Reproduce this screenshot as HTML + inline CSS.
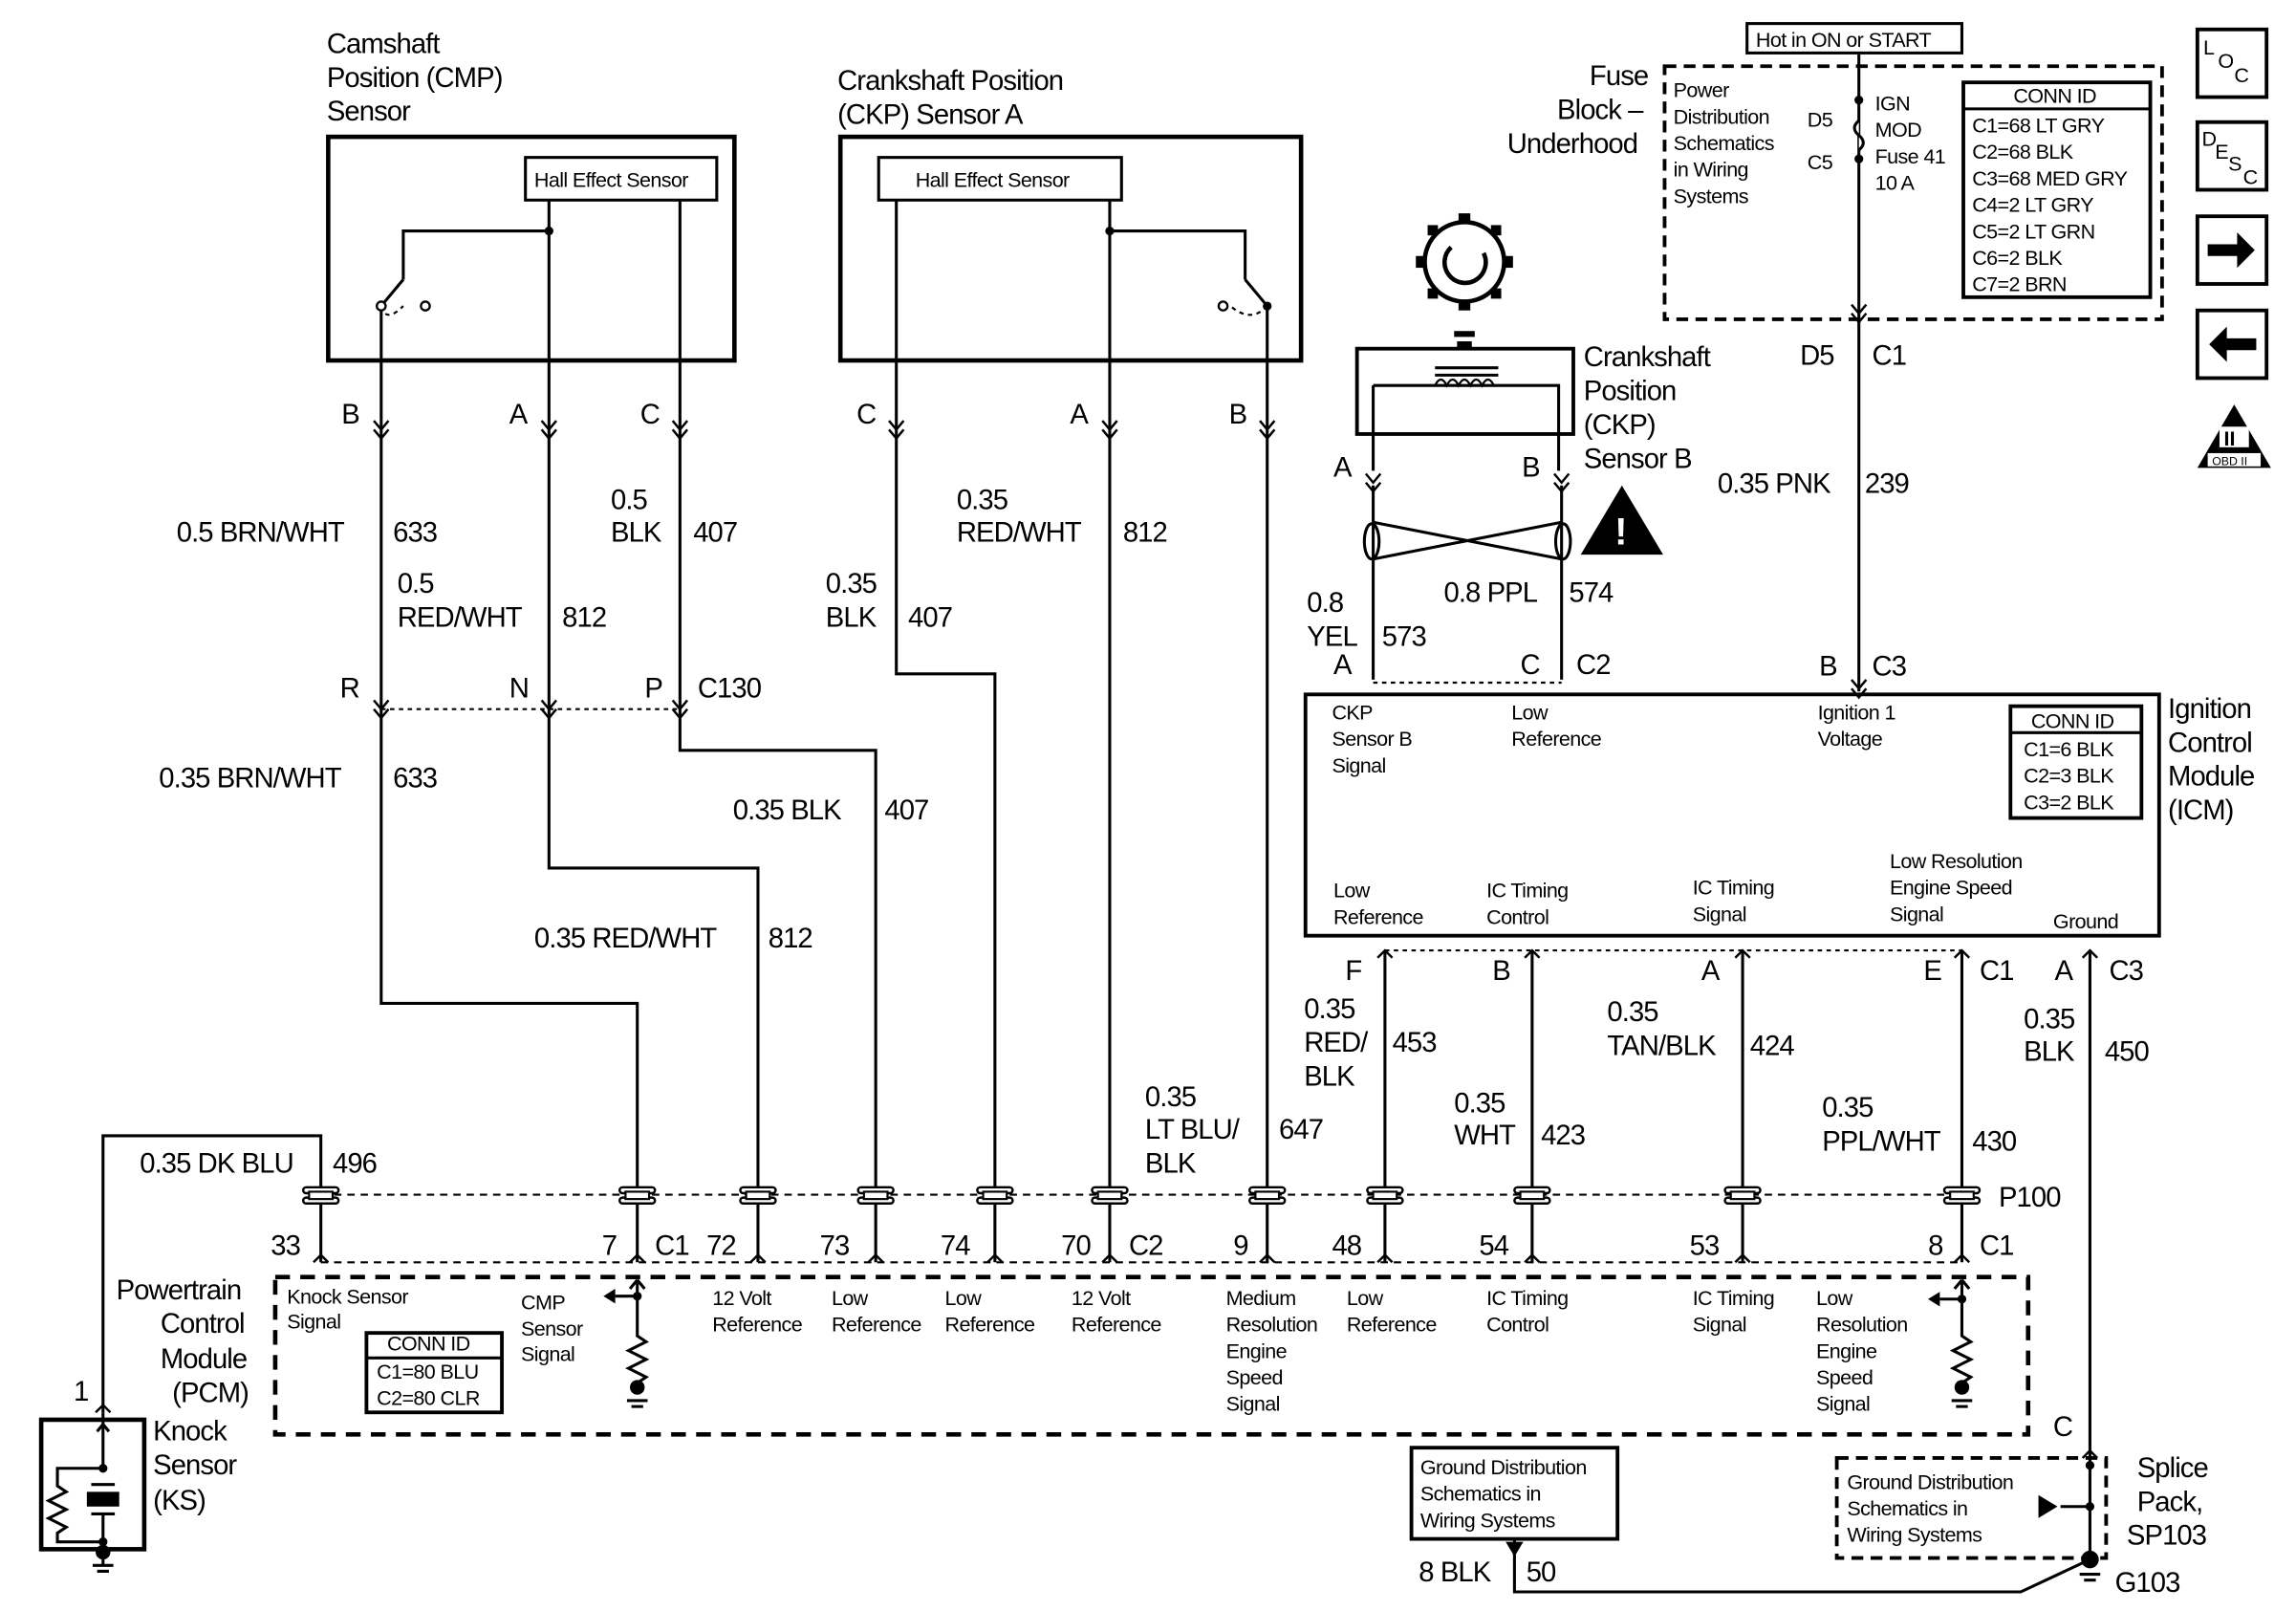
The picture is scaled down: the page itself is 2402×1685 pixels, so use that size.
<!DOCTYPE html>
<html><head><meta charset="utf-8"><style>
html,body{margin:0;padding:0;background:#fff}
svg{display:block}
text{font-family:"Liberation Sans",sans-serif;fill:#000}
.l{font-size:19px;letter-spacing:-0.6px}
.s{font-size:14px;letter-spacing:-0.4px}
</style></head><body>
<svg width="2402" height="1685" viewBox="0 0 1560 1095" preserveAspectRatio="none" xmlns="http://www.w3.org/2000/svg">
<defs>
<g id="chev"><path d="M-5,-8 L0,-2 L5,-8 M-5,-2 L0,4 L5,-2" fill="none" stroke="#000" stroke-width="1.6"/></g>
<g id="pc"><rect x="-12" y="-6" width="24" height="4" rx="2" fill="#fff" stroke="#000" stroke-width="1.6"/><rect x="-12" y="1" width="24" height="4" rx="2" fill="#fff" stroke="#000" stroke-width="1.6"/><rect x="-8" y="-3" width="16" height="5" fill="#fff" stroke="#000" stroke-width="1.4"/></g>
<g id="fk"><path d="M-5,5 L0,0 L5,5" fill="none" stroke="#000" stroke-width="1.6"/></g>
</defs>
<g fill="none" stroke="#000" stroke-width="2">
<rect x="223" y="93" width="276" height="152" stroke-width="3"/>
<rect x="357" y="107" width="130" height="29"/>
<path d="M373,136 V590 H515 V810 M373,157 H274 V190 M259,208 V682 H433 V810 M462,136 V510 H595 V810"/>
<path d="M259,208 L274,190"/>
<rect x="571" y="93" width="313" height="152" stroke-width="3"/>
<rect x="597" y="107" width="165" height="29"/>
<path d="M609,136 V458 H676 V810 M754,136 V810 M754,157 H846 V190 M861,208 V810 M861,208 L846,190"/>
</g>
<g fill="none" stroke="#000" stroke-width="1.4" stroke-dasharray="3,3">
<path d="M259,208 Q262,220 274,208 M861,208 Q850,220 836,208"/>
<path d="M259,482 H462"/>
<path d="M933,464 H1061"/>
<path d="M941,646 H1333"/>
</g>
<circle cx="259" cy="208" r="3" fill="#fff" stroke="#000" stroke-width="1.5"/><circle cx="289" cy="208" r="3" fill="#fff" stroke="#000" stroke-width="1.5"/>
<circle cx="861" cy="208" r="3" fill="#000"/><circle cx="831" cy="208" r="3" fill="#fff" stroke="#000" stroke-width="1.5"/>
<circle cx="373" cy="157" r="3" fill="#000"/><circle cx="754" cy="157" r="3" fill="#000"/>
<g class="s"><text x="363" y="127">Hall Effect Sensor</text><text x="622" y="127">Hall Effect Sensor</text></g>
<g class="l">
<text x="222" y="36">Camshaft</text><text x="222" y="59">Position (CMP)</text><text x="222" y="82">Sensor</text>
<text x="569" y="61">Crankshaft Position</text><text x="569" y="84">(CKP) Sensor A</text>
</g>
<g><use href="#chev" x="259" y="294"/><use href="#chev" x="373" y="294"/><use href="#chev" x="462" y="294"/><use href="#chev" x="609" y="294"/><use href="#chev" x="754" y="294"/><use href="#chev" x="861" y="294"/>
<use href="#chev" x="259" y="484"/><use href="#chev" x="373" y="484"/><use href="#chev" x="462" y="484"/>
<use href="#chev" x="933" y="330"/><use href="#chev" x="1061" y="330"/></g>
<g class="l">
<text x="232" y="288">B</text><text x="346" y="288">A</text><text x="435" y="288">C</text>
<text x="582" y="288">C</text><text x="727" y="288">A</text><text x="835" y="288">B</text>
<text x="120" y="368">0.5 BRN/WHT</text><text x="267" y="368">633</text>
<text x="270" y="403">0.5</text><text x="270" y="426">RED/WHT</text><text x="382" y="426">812</text>
<text x="415" y="346">0.5</text><text x="415" y="368">BLK</text><text x="471" y="368">407</text>
<text x="561" y="403">0.35</text><text x="561" y="426">BLK</text><text x="617" y="426">407</text>
<text x="650" y="346">0.35</text><text x="650" y="368">RED/WHT</text><text x="763" y="368">812</text>
<text x="231" y="474">R</text><text x="346" y="474">N</text><text x="438" y="474">P</text><text x="474" y="474">C130</text>
<text x="108" y="535">0.35 BRN/WHT</text><text x="267" y="535">633</text>
<text x="498" y="557">0.35 BLK</text><text x="601" y="557">407</text>
<text x="363" y="644">0.35 RED/WHT</text><text x="522" y="644">812</text>
</g>
<g fill="none" stroke="#000" stroke-width="2">
<circle cx="995" cy="178" r="27" stroke-width="3"/>
<path d="M986,168 A14,14 0 1 0 1008,172" stroke-width="3"/>
<rect x="922" y="237" width="147" height="58" stroke-width="2.5"/>
<path d="M933,262 H1059 V320 M933,262 V320 M933,330 V462 M1061,330 V462"/>
<path d="M975,255 H1018 M975,250 H1018"/>
<path d="M933,355 L1061,380 M933,380 L1061,355"/>
<ellipse cx="932" cy="368" rx="5" ry="12"/><ellipse cx="1062" cy="368" rx="5" ry="12"/>
</g>
<g fill="#000"><rect x="988" y="225" width="14" height="4"/><rect x="990" y="232" width="10" height="5"/></g>
<g fill="none" stroke="#000" stroke-width="1.5"><path d="M975,262 q4,-8 8,0 q4,-8 8,0 q4,-8 8,0 q4,-8 8,0 q4,-8 8,0"/></g>
<g fill="#000"><rect x="991" y="145" width="8" height="7"/><rect x="991" y="204" width="8" height="7"/><rect x="962" y="174" width="7" height="8"/><rect x="1021" y="174" width="7" height="8"/>
<rect x="970" y="153" width="7" height="7"/><rect x="1013" y="153" width="7" height="7"/><rect x="970" y="196" width="7" height="7"/><rect x="1013" y="196" width="7" height="7"/></g>
<path d="M1102,330 L1130,377 H1074 Z" fill="#000"/>
<text x="1097" y="370" style="font-size:26px;font-weight:bold;fill:#fff">!</text>
<g class="l">
<text x="1076" y="249">Crankshaft</text><text x="1076" y="272">Position</text><text x="1076" y="295">(CKP)</text><text x="1076" y="318">Sensor B</text>
<text x="906" y="324">A</text><text x="1034" y="324">B</text>
<text x="888" y="416">0.8</text><text x="888" y="439">YEL</text><text x="939" y="439">573</text>
<text x="981" y="409">0.8 PPL</text><text x="1066" y="409">574</text>
<text x="906" y="458">A</text><text x="1033" y="458">C</text><text x="1071" y="458">C2</text>
</g>
<rect x="1131" y="45" width="338" height="172" fill="none" stroke="#000" stroke-width="2.5" stroke-dasharray="8,5"/>
<rect x="1187" y="16" width="146" height="20" fill="#fff" stroke="#000" stroke-width="2"/>
<text x="1193" y="32" class="s">Hot in ON or START</text>
<path d="M1263,36 V470" stroke="#000" stroke-width="2"/>
<path d="M1263,82 q-6,5 0,10 q6,5 0,10" fill="#fff" stroke="#000" stroke-width="2"/>
<circle cx="1263" cy="68" r="3" fill="#000"/><circle cx="1263" cy="108" r="3" fill="#000"/>
<use href="#chev" x="1263" y="215"/><use href="#chev" x="1263" y="470"/>
<rect x="1334" y="56" width="127" height="146" fill="none" stroke="#000" stroke-width="2.5"/>
<path d="M1334,74 H1461" stroke="#000" stroke-width="2"/>
<g class="s">
<text x="1137" y="66">Power</text><text x="1137" y="84">Distribution</text><text x="1137" y="102">Schematics</text><text x="1137" y="120">in Wiring</text><text x="1137" y="138">Systems</text>
<text x="1228" y="86">D5</text><text x="1228" y="115">C5</text>
<text x="1274" y="75">IGN</text><text x="1274" y="93">MOD</text><text x="1274" y="111">Fuse 41</text><text x="1274" y="129">10 A</text>
<text x="1368" y="70">CONN ID</text><text x="1340" y="90">C1=68 LT GRY</text><text x="1340" y="108">C2=68 BLK</text><text x="1340" y="126">C3=68 MED GRY</text><text x="1340" y="144">C4=2 LT GRY</text><text x="1340" y="162">C5=2 LT GRN</text><text x="1340" y="180">C6=2 BLK</text><text x="1340" y="198">C7=2 BRN</text>
</g>
<g class="l"><text x="1080" y="58">Fuse</text><text x="1058" y="81">Block –</text><text x="1024" y="104">Underhood</text>
<text x="1223" y="248">D5</text><text x="1272" y="248">C1</text>
<text x="1167" y="335">0.35 PNK</text><text x="1267" y="335">239</text>
<text x="1236" y="459">B</text><text x="1272" y="459">C3</text></g>
<rect x="887" y="472" width="580" height="164" fill="none" stroke="#000" stroke-width="2.5"/>
<rect x="1366" y="480" width="89" height="76" fill="none" stroke="#000" stroke-width="2.5"/>
<path d="M1366,498 H1455" stroke="#000" stroke-width="2"/>
<g class="s">
<text x="1380" y="495">CONN ID</text><text x="1375" y="514">C1=6 BLK</text><text x="1375" y="532">C2=3 BLK</text><text x="1375" y="550">C3=2 BLK</text>
<text x="905" y="489">CKP</text><text x="905" y="507">Sensor B</text><text x="905" y="525">Signal</text>
<text x="1027" y="489">Low</text><text x="1027" y="507">Reference</text>
<text x="1235" y="489">Ignition 1</text><text x="1235" y="507">Voltage</text>
<text x="906" y="610">Low</text><text x="906" y="628">Reference</text>
<text x="1010" y="610">IC Timing</text><text x="1010" y="628">Control</text>
<text x="1150" y="608">IC Timing</text><text x="1150" y="626">Signal</text>
<text x="1284" y="590">Low Resolution</text><text x="1284" y="608">Engine Speed</text><text x="1284" y="626">Signal</text>
<text x="1395" y="631">Ground</text>
</g>
<g class="l"><text x="1473" y="488">Ignition</text><text x="1473" y="511">Control</text><text x="1473" y="534">Module</text><text x="1473" y="557">(ICM)</text></g>
<g fill="none" stroke="#000" stroke-width="2"><path d="M941,646 V810 M1041,646 V810 M1184,646 V810 M1333,646 V810 M1420,646 V1060"/></g>
<use href="#fk" x="941" y="646"/><use href="#fk" x="1041" y="646"/><use href="#fk" x="1184" y="646"/><use href="#fk" x="1333" y="646"/><use href="#fk" x="1420" y="646"/>
<g class="l">
<text x="914" y="666">F</text><text x="1014" y="666">B</text><text x="1156" y="666">A</text><text x="1307" y="666">E</text><text x="1345" y="666">C1</text><text x="1396" y="666">A</text><text x="1433" y="666">C3</text>
<text x="886" y="692">0.35</text><text x="886" y="715">RED/</text><text x="886" y="738">BLK</text><text x="946" y="715">453</text>
<text x="1092" y="694">0.35</text><text x="1092" y="717">TAN/BLK</text><text x="1189" y="717">424</text>
<text x="1375" y="699">0.35</text><text x="1375" y="721">BLK</text><text x="1430" y="721">450</text>
<text x="988" y="756">0.35</text><text x="988" y="778">WHT</text><text x="1047" y="778">423</text>
<text x="1238" y="759">0.35</text><text x="1238" y="782">PPL/WHT</text><text x="1340" y="782">430</text>
<text x="778" y="752">0.35</text><text x="778" y="774">LT BLU/</text><text x="778" y="797">BLK</text><text x="869" y="774">647</text>
<text x="95" y="797">0.35 DK BLU</text><text x="226" y="797">496</text>
<text x="1358" y="820">P100</text>
</g>
<path d="M218,812 V772 H70 V960" fill="none" stroke="#000" stroke-width="2"/>
<path d="M218,812 V858 M433,812 V858 M515,812 V858 M595,812 V858 M676,812 V858 M754,812 V858 M861,812 V858 M941,812 V858 M1041,812 V858 M1184,812 V858 M1333,812 V858" stroke="#000" stroke-width="2"/>
<path d="M218,812 H1333" stroke="#000" stroke-width="1.4" stroke-dasharray="5,4"/>
<path d="M218,858 H1333" stroke="#000" stroke-width="1.4" stroke-dasharray="5,4"/>
<g><use href="#pc" x="218" y="813"/><use href="#pc" x="433" y="813"/><use href="#pc" x="515" y="813"/><use href="#pc" x="595" y="813"/><use href="#pc" x="676" y="813"/><use href="#pc" x="754" y="813"/><use href="#pc" x="861" y="813"/><use href="#pc" x="941" y="813"/><use href="#pc" x="1041" y="813"/><use href="#pc" x="1184" y="813"/><use href="#pc" x="1333" y="813"/></g>
<g><use href="#fk" x="218" y="853"/><use href="#fk" x="433" y="853"/><use href="#fk" x="515" y="853"/><use href="#fk" x="595" y="853"/><use href="#fk" x="676" y="853"/><use href="#fk" x="754" y="853"/><use href="#fk" x="861" y="853"/><use href="#fk" x="941" y="853"/><use href="#fk" x="1041" y="853"/><use href="#fk" x="1184" y="853"/><use href="#fk" x="1333" y="853"/><use href="#fk" x="70" y="955"/></g>
<g class="l">
<text x="184" y="853">33</text><text x="409" y="853">7</text><text x="445" y="853">C1</text><text x="480" y="853">72</text><text x="557" y="853">73</text><text x="639" y="853">74</text><text x="721" y="853">70</text><text x="767" y="853">C2</text><text x="838" y="853">9</text><text x="905" y="853">48</text><text x="1005" y="853">54</text><text x="1148" y="853">53</text><text x="1310" y="853">8</text><text x="1345" y="853">C1</text>
</g>
<rect x="187" y="868" width="1191" height="107" fill="none" stroke="#000" stroke-width="3" stroke-dasharray="10,7"/>
<rect x="249" y="906" width="92" height="54" fill="none" stroke="#000" stroke-width="2.5"/>
<path d="M249,923 H341" stroke="#000" stroke-width="2"/>
<g class="s">
<text x="263" y="918">CONN ID</text><text x="256" y="937">C1=80 BLU</text><text x="256" y="955">C2=80 CLR</text>
<text x="195" y="886">Knock Sensor</text><text x="195" y="903">Signal</text>
<text x="354" y="890">CMP</text><text x="354" y="908">Sensor</text><text x="354" y="925">Signal</text>
<text x="484" y="887">12 Volt</text><text x="484" y="905">Reference</text>
<text x="565" y="887">Low</text><text x="565" y="905">Reference</text>
<text x="642" y="887">Low</text><text x="642" y="905">Reference</text>
<text x="728" y="887">12 Volt</text><text x="728" y="905">Reference</text>
<text x="833" y="887">Medium</text><text x="833" y="905">Resolution</text><text x="833" y="923">Engine</text><text x="833" y="941">Speed</text><text x="833" y="959">Signal</text>
<text x="915" y="887">Low</text><text x="915" y="905">Reference</text>
<text x="1010" y="887">IC Timing</text><text x="1010" y="905">Control</text>
<text x="1150" y="887">IC Timing</text><text x="1150" y="905">Signal</text>
<text x="1234" y="887">Low</text><text x="1234" y="905">Resolution</text><text x="1234" y="923">Engine</text><text x="1234" y="941">Speed</text><text x="1234" y="959">Signal</text>
</g>
<g class="l"><text x="79" y="883">Powertrain</text><text x="109" y="906">Control</text><text x="109" y="930">Module</text><text x="117" y="953">(PCM)</text>
<text x="50" y="952">1</text>
<text x="104" y="979">Knock</text><text x="104" y="1002">Sensor</text><text x="104" y="1026">(KS)</text></g>
<g fill="none" stroke="#000" stroke-width="2">
<path d="M433,870 V908 l6,4 -12,6 12,6 -12,6 12,6 -6,4 V940 M433,870 l-5,6 M433,870 l5,6 M433,881 H418"/>
<path d="M1333,870 V908 l6,4 -12,6 12,6 -12,6 12,6 -6,4 V940 M1333,870 l-5,6 M1333,870 l5,6 M1333,883 H1318"/>
<path d="M426,952 h14 M429,956 h8 M1326,952 h14 M1329,956 h8"/>
</g>
<g fill="#000"><circle cx="433" cy="881" r="3"/><circle cx="433" cy="943" r="5"/><path d="M418,876 l-8,5 8,5z"/>
<circle cx="1333" cy="883" r="3"/><circle cx="1333" cy="943" r="5"/><path d="M1318,878 l-8,5 8,5z"/></g>
<rect x="28" y="965" width="70" height="88" fill="none" stroke="#000" stroke-width="3"/>
<g fill="none" stroke="#000" stroke-width="2"><path d="M70,960 V1000 M70,968 l-4,5 M70,968 l4,5 M70,998 H39 V1010 l6,4 -12,6 12,6 -12,6 12,6 -6,4 V1048 H70 V1030 M62,1009 h16 M62,1029 h16 M70,1048 V1065 M63,1064 h14 M66,1068 h8"/></g>
<rect x="59" y="1014" width="22" height="10" fill="#000"/>
<circle cx="70" cy="998" r="3" fill="#000"/><circle cx="70" cy="1048" r="3" fill="#000"/><circle cx="70" cy="1055" r="5" fill="#000"/>
<rect x="959" y="984" width="140" height="62" fill="none" stroke="#000" stroke-width="2.5"/>
<g class="s"><text x="965" y="1002">Ground Distribution</text><text x="965" y="1020">Schematics in</text><text x="965" y="1038">Wiring Systems</text>
<text x="1255" y="1012">Ground Distribution</text><text x="1255" y="1030">Schematics in</text><text x="1255" y="1048">Wiring Systems</text></g>
<path d="M1029,1046 V1082 H1373 L1420,1060" fill="none" stroke="#000" stroke-width="2"/>
<path d="M1023,1048 h12 l-6,10z" fill="#000"/>
<rect x="1248" y="991" width="183" height="68" fill="none" stroke="#000" stroke-width="2.5" stroke-dasharray="8,5"/>
<path d="M1400,1024 H1420 M1386,1018 v12 l10,-6z" fill="#000" stroke="#000" stroke-width="2"/>
<circle cx="1420" cy="1024" r="3" fill="#000"/><circle cx="1420" cy="996" r="3" fill="#000"/><circle cx="1420" cy="1060" r="6" fill="#000"/>
<path d="M1413,1070 h14 M1416,1074 h8" stroke="#000" stroke-width="2"/>
<use href="#fk" x="1420" y="986"/>
<g class="l"><text x="964" y="1075">8 BLK</text><text x="1037" y="1075">50</text><text x="1395" y="976">C</text>
<text x="1452" y="1004">Splice</text><text x="1452" y="1027">Pack,</text><text x="1445" y="1050">SP103</text><text x="1437" y="1082">G103</text></g>
<g fill="none" stroke="#000" stroke-width="2.5">
<rect x="1493" y="20" width="47" height="46"/><rect x="1493" y="83" width="47" height="46"/><rect x="1493" y="147" width="47" height="46"/><rect x="1493" y="211" width="47" height="46"/></g>
<g class="s"><text x="1497" y="37">L</text><text x="1507" y="46">O</text><text x="1518" y="56">C</text>
<text x="1496" y="99">D</text><text x="1505" y="108">E</text><text x="1514" y="116">S</text><text x="1524" y="125">C</text></g>
<path d="M1500,166 h20 v-8 l12,12 -12,12 v-8 h-20z" fill="#000"/>
<path d="M1533,230 h-20 v-8 l-12,12 12,12 v-8 h20z" fill="#000"/>
<path d="M1518,275 L1543,318 H1493z" fill="#000"/>
<rect x="1508" y="290" width="20" height="14" fill="#fff"/>
<text x="1511" y="303" style="font-size:14px;font-weight:bold">II</text>
<rect x="1500" y="308" width="36" height="9" fill="#fff"/>
<text x="1503" y="316" style="font-size:8px">OBD II</text>
</svg>
</body></html>
